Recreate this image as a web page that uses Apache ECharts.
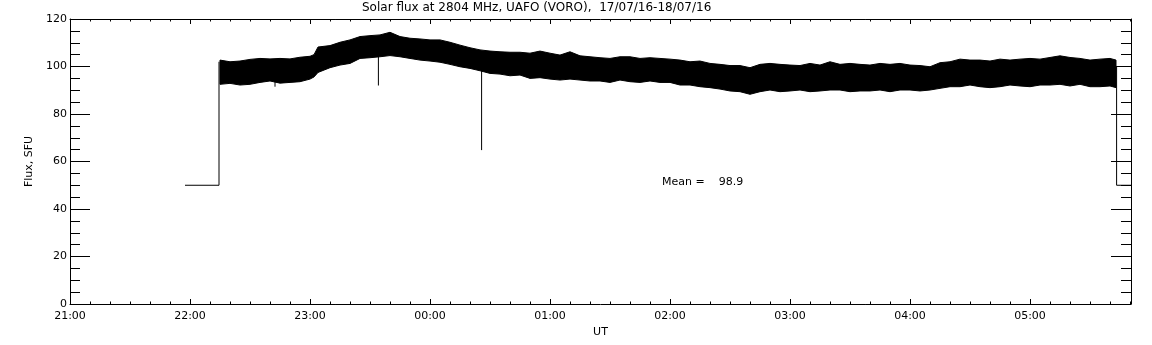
<!DOCTYPE html>
<html>
<head>
<meta charset="utf-8">
<script src="https://cdn.jsdelivr.net/npm/echarts@6/dist/echarts.min.js"></script>
<style>
  html, body { margin: 0; padding: 0; background: #fff; }
  #main { width: 1152px; height: 345px; }
</style>
</head>
<body>
<div id="main"></div>
<script>
// time in minutes after 21:00 UT (17/07/16); upper / lower edge of the noisy record
var bandTimes = [75, 80, 85, 90, 95, 100, 105, 110, 115, 120, 122, 124, 130, 135, 140, 145, 150, 155, 160,
  165, 170, 175, 180, 185, 190, 195, 200, 205, 210, 215, 220, 225, 230, 235, 240, 245, 250, 255,
  260, 265, 270, 275, 280, 285, 290, 295, 300, 305, 310, 315, 320, 325, 330, 335, 340, 345, 350,
  355, 360, 365, 370, 375, 380, 385, 390, 395, 400, 405, 410, 415, 420, 425, 430, 435, 440, 445,
  450, 455, 460, 465, 470, 475, 480, 485, 490, 495, 500, 505, 510, 515, 520, 523];
var bandUpper = [102.7, 102, 102.3, 103, 103.4, 103.2, 103.4, 103.2, 103.9, 104.3, 105, 108.2, 108.8, 110.2, 111.2, 112.6, 113, 113.3, 114.4,
  112.6, 111.9, 111.6, 111.2, 111.2, 110.2, 109, 107.9, 107, 106.5, 106.2, 106, 106, 105.6, 106.5, 105.6, 104.8, 106.2, 104.5,
  104.1, 103.7, 103.4, 104.1, 104.1, 103.4, 103.7, 103.4, 103.1, 102.7, 102, 102.3, 101.3, 100.9, 100.4, 100.4, 99.5, 100.9, 101.3,
  100.9, 100.6, 100.4, 101.3, 100.6, 102, 100.9, 101.3, 100.9, 100.6, 101.3, 100.9, 101.3, 100.6, 100.4, 99.9, 101.6, 102, 103.1,
  102.7, 102.7, 102.3, 103.1, 102.7, 103.1, 103.4, 103.1, 103.8, 104.5, 103.8, 103.4, 102.7, 103.1, 103.4, 102.7];
var bandLower = [92.5, 92.9, 92.2, 92.5, 93.3, 93.9, 93, 93.3, 93.6, 94.7, 95.6, 97.5, 99.5, 100.6, 101.3, 103.4, 103.7, 104.1, 104.6,
  104.1, 103.4, 102.7, 102.3, 101.8, 100.9, 99.9, 99.2, 98.2, 97.1, 96.8, 96.1, 96.4, 95, 95.3, 94.7, 94.3, 94.7, 94.3,
  93.9, 93.9, 93.3, 94.3, 93.6, 93.3, 93.9, 93.3, 93.3, 92.2, 92.2, 91.5, 91.1, 90.5, 89.7, 89.4, 88.3, 89.4, 90.1,
  89.4, 89.7, 90.1, 89.4, 89.7, 90.1, 90.1, 89.4, 89.7, 89.7, 90.1, 89.4, 90.1, 90.1, 89.7, 90.1, 90.8, 91.5, 91.5,
  92.2, 91.5, 91.1, 91.5, 92.2, 91.8, 91.5, 92.2, 92.2, 92.5, 91.8, 92.5, 91.5, 91.5, 91.8, 91.1];
// edges of the record (no data -> 50 SFU) and isolated dips
var startStep = [[57.5, 50], [74.5, 50], [74.5, 102]];
var endStep = [[523.3, 100], [523.3, 50], [530.5, 50]];
var dips = [[102.5, 93.5, 91.5], [154.2, 104.5, 92], [205.8, 98.5, 64.8]];
var meanFlux = 98.9;
var hourLabels = ['21:00', '22:00', '23:00', '00:00', '01:00', '02:00', '03:00', '04:00', '05:00'];

var font = 'DejaVu Sans';
var myChart = echarts.init(document.getElementById('main'));

// band polygon: upper edge left->right, lower edge right->left
var bandData = [];
for (var i = 0; i < bandTimes.length; i++) bandData.push([bandTimes[i], bandUpper[i]]);
for (var j = bandTimes.length - 1; j >= 0; j--) bandData.push([bandTimes[j], bandLower[j]]);

var lineStyle = { color: '#000', width: 1 };
var series = [
  {
    type: 'custom', silent: true, data: [0],
    renderItem: function (params, api) {
      var pts = bandData.map(function (p) { return api.coord(p); });
      return { type: 'polygon', shape: { points: pts },
        style: { fill: '#000', stroke: '#000', lineWidth: 1 } };
    }
  },
  { type: 'line', data: startStep, symbol: 'none', lineStyle: lineStyle, silent: true },
  { type: 'line', data: endStep, symbol: 'none', lineStyle: lineStyle, silent: true }
];
dips.forEach(function (d) {
  series.push({ type: 'line', data: [[d[0], d[1]], [d[0], d[2]]], symbol: 'none',
    lineStyle: lineStyle, silent: true });
});

function xAxis(pos, showLabel) {
  return {
    type: 'value', position: pos, min: 0, max: 530.5, interval: 60,
    name: showLabel ? 'UT' : '', nameLocation: 'middle', nameGap: 11,
    nameTextStyle: { fontFamily: font, fontSize: 11, color: '#000' },
    axisLine: { onZero: false, lineStyle: { color: '#000', width: 1 } },
    axisTick: { inside: true, length: 5, lineStyle: { color: '#000' } },
    minorTick: { show: true, splitNumber: 6, length: 2.5, lineStyle: { color: '#000' } },
    axisLabel: {
      show: showLabel, margin: 7, showMaxLabel: false,
      fontFamily: font, fontSize: 11, color: '#000',
      formatter: function (v) { return hourLabels[Math.round(v / 60)] || ''; }
    },
    splitLine: { show: false }
  };
}
function yAxis(pos, showLabel) {
  return {
    type: 'value', position: pos, min: 0, max: 120, interval: 20,
    name: showLabel ? 'Flux, SFU' : '', nameLocation: 'middle', nameGap: 35,
    nameTextStyle: { fontFamily: font, fontSize: 11, color: '#000' },
    axisLine: { show: true, onZero: false, lineStyle: { color: '#000', width: 1 } },
    axisTick: { inside: true, length: 20, lineStyle: { color: '#000' } },
    minorTick: { show: true, splitNumber: 4, length: 10, lineStyle: { color: '#000' } },
    axisLabel: { show: showLabel, margin: 3, fontFamily: font, fontSize: 11, color: '#000' },
    splitLine: { show: false }
  };
}

var option = {
  animation: false,
  backgroundColor: '#fff',
  grid: { left: 70, right: 21, top: 19, bottom: 41 },
  xAxis: [xAxis('bottom', true), xAxis('top', false)],
  yAxis: [yAxis('left', true), yAxis('right', false)],
  graphic: [
    { type: 'text', left: 362, top: 2,
      style: { text: 'Solar flux at 2804 MHz, UAFO (VORO),  17/07/16-18/07/16',
        fontFamily: font, fontSize: 12, fill: '#000' } },
    { type: 'text', left: 662, top: 177,
      style: { text: 'Mean =    ' + meanFlux.toFixed(1), fontFamily: font, fontSize: 11, fill: '#000' } }
  ],
  series: series
};
myChart.setOption(option);
</script>
</body>
</html>
